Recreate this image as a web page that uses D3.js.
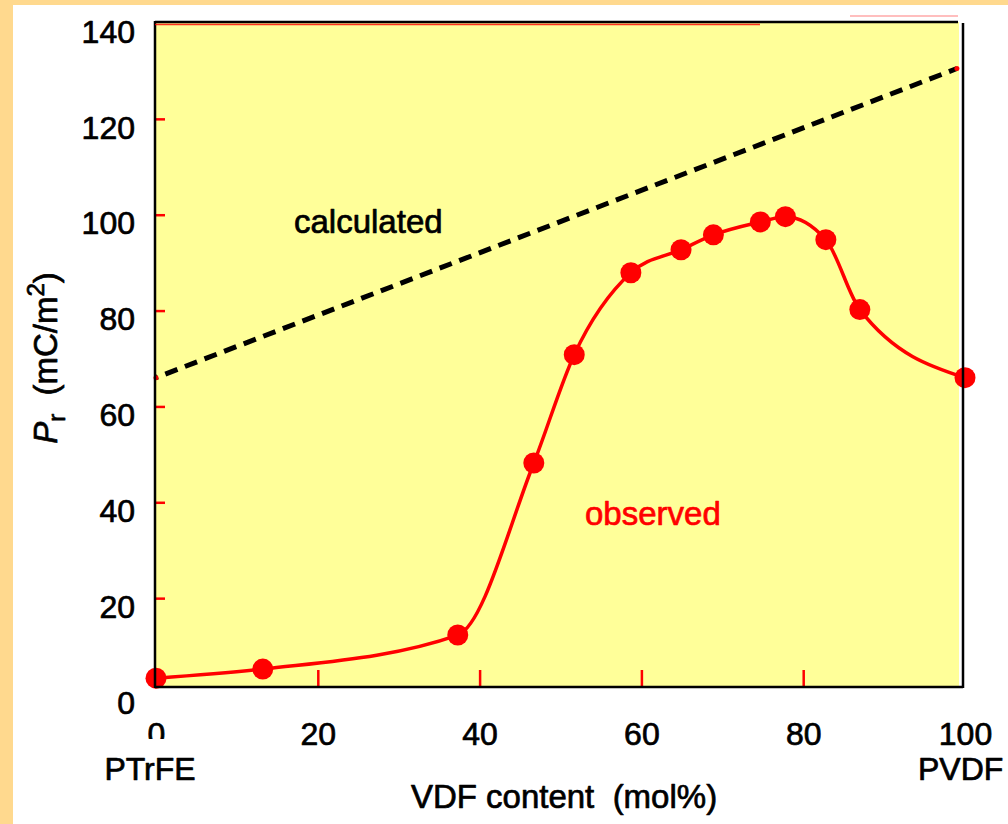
<!DOCTYPE html>
<html>
<head>
<meta charset="utf-8">
<script src="https://cdn.jsdelivr.net/npm/d3@7"></script>
<style>
  html, body { margin: 0; padding: 0; background: #ffffff; }
  svg { display: block; }
  text { font-family: "Liberation Sans", Arial, Helvetica, sans-serif; }
</style>
</head>
<body>
<svg id="chart" width="1008" height="824"></svg>
<script>
// VDF content (mol%) of the copolymer samples and their remanent polarization
const vdfContent = [0, 13.2, 37.3, 46.7, 51.7, 58.7, 64.9, 68.9, 74.7, 77.8, 82.8, 87.0, 100];
const observedPr = [3.3, 5.2, 12.3, 48.2, 70.8, 87.9, 92.7, 95.8, 98.5, 99.6, 94.8, 80.2, 66.0];

// calculated remanent polarization (linear in VDF content)
const calcContent = [0, 99];
const calcPr = [66, 130.5];

// tick labels
const xTickValues = [0, 20, 40, 60, 80, 100];
const xInnerTicks = [20, 40, 60, 80];
const yTickValues = [0, 20, 40, 60, 80, 100, 120, 140];
const yInnerTicks = [20, 40, 60, 80, 100, 120];

const svg = d3.select("#chart");

const x = d3.scaleLinear().domain([0, 100]).range([156, 965]);
const y = d3.scaleLinear().domain([0, 140]).range([694, 23]);

// plot frame geometry
const frameLeft = 155, frameRight = 963, frameTop = 22, frameBottom = 687;

// slight outline so glyphs read as heavy as the printed lettering
const heavy = sel => sel.attr("stroke", function () { return d3.select(this).attr("fill"); })
  .attr("stroke-width", 0.7).attr("stroke-linejoin", "round");

// page border
svg.append("rect").attr("x", 0).attr("y", 0).attr("width", 1008).attr("height", 824).attr("fill", "#ffffff");
svg.append("rect").attr("x", 0).attr("y", 0).attr("width", 13).attr("height", 824).attr("fill", "#FFD98E");
svg.append("rect").attr("x", 0).attr("y", 0).attr("width", 1008).attr("height", 5).attr("fill", "#FFD98E");

// plot background
svg.append("rect")
  .attr("x", frameLeft).attr("y", frameTop)
  .attr("width", 959 - frameLeft).attr("height", frameBottom - frameTop)
  .attr("fill", "#FFFF99");

// red inner ticks
const redTicksX = svg.append("g")
  .attr("transform", `translate(0,${frameBottom})`)
  .call(d3.axisBottom(x).tickValues(xInnerTicks).tickSize(-17).tickFormat(""));
redTicksX.select(".domain").remove();
redTicksX.selectAll("line").attr("stroke", "#FF0000").attr("stroke-width", 2.5);

const redTicksY = svg.append("g")
  .attr("transform", `translate(${frameLeft},0)`)
  .call(d3.axisLeft(y).tickValues(yInnerTicks).tickSize(-10).tickFormat(""));
redTicksY.select(".domain").remove();
redTicksY.selectAll("line").attr("stroke", "#FF0000").attr("stroke-width", 2.5);

// calculated line (dashed)
const calcData = calcContent.map((c, i) => [c, calcPr[i]]);
svg.append("path")
  .datum(calcData)
  .attr("d", d3.line().x(d => x(d[0])).y(d => y(d[1])))
  .attr("fill", "none")
  .attr("stroke", "#000000")
  .attr("stroke-width", 5)
  .attr("stroke-dasharray", "13,8")
  .attr("stroke-dashoffset", -10);
svg.selectAll("circle.calc-end")
  .data(calcData)
  .join("circle")
  .attr("class", "calc-end")
  .attr("cx", d => x(d[0]))
  .attr("cy", d => y(d[1]))
  .attr("r", 2.5)
  .attr("fill", "#FF0000");

// observed curve and points
const obsData = vdfContent.map((c, i) => [c, observedPr[i]]);
svg.append("path")
  .datum(obsData)
  .attr("d", d3.line().x(d => x(d[0])).y(d => y(d[1])).curve(d3.curveMonotoneX))
  .attr("fill", "none")
  .attr("stroke", "#FF0000")
  .attr("stroke-width", 3.5);
svg.selectAll("circle.obs")
  .data(obsData)
  .join("circle")
  .attr("class", "obs")
  .attr("cx", d => x(d[0]))
  .attr("cy", d => y(d[1]))
  .attr("r", 10.5)
  .attr("fill", "#FF0000");

// frame lines
const frame = svg.append("g").attr("stroke", "#000000").attr("stroke-width", 2.5);
frame.append("line").attr("x1", frameLeft).attr("x2", frameLeft).attr("y1", frameTop - 1).attr("y2", frameBottom + 1);
frame.append("line").attr("x1", frameLeft).attr("x2", frameRight).attr("y1", frameBottom).attr("y2", frameBottom);
frame.append("line").attr("x1", frameLeft).attr("x2", 958).attr("y1", frameTop).attr("y2", frameTop);
frame.append("line").attr("x1", frameRight).attr("x2", frameRight).attr("y1", frameTop + 1).attr("y2", frameBottom + 1);
svg.append("line").attr("x1", frameLeft).attr("x2", 760).attr("y1", frameTop + 2.5).attr("y2", frameTop + 2.5)
  .attr("stroke", "#FF0000").attr("stroke-width", 1.5).attr("opacity", 0.8);
svg.append("line").attr("x1", 850).attr("x2", 958).attr("y1", 16).attr("y2", 16)
  .attr("stroke", "#FF0000").attr("stroke-width", 1.2).attr("opacity", 0.5);

// y tick labels
const yLabels = svg.append("g")
  .attr("transform", `translate(${frameLeft},0)`)
  .call(d3.axisLeft(y).tickValues(yTickValues).tickSize(0).tickPadding(20));
yLabels.select(".domain").remove();
yLabels.selectAll("text")
  .attr("font-family", "'Liberation Sans', Arial, sans-serif")
  .attr("font-size", 32)
  .attr("fill", "#000000")
  .attr("dy", "0.6em")
  .call(heavy);

// x tick labels
const defs = svg.append("defs");
defs.append("clipPath").attr("id", "zero-clip")
  .append("rect").attr("x", -25).attr("y", 0).attr("width", 50).attr("height", 52);

const xLabels = svg.append("g")
  .attr("transform", `translate(0,${frameBottom})`)
  .call(d3.axisBottom(x).tickValues(xTickValues).tickSize(0).tickPadding(35));
xLabels.select(".domain").remove();
xLabels.selectAll("text")
  .attr("font-family", "'Liberation Sans', Arial, sans-serif")
  .attr("font-size", 32)
  .attr("fill", "#000000")
  .call(heavy);
xLabels.selectAll(".tick").filter(d => d === 0).select("text").attr("clip-path", "url(#zero-clip)");

// end-member names and axis titles
svg.append("text").attr("x", 150).attr("y", 780).attr("text-anchor", "middle")
  .attr("font-size", 32).attr("fill", "#000").text("PTrFE").call(heavy);
svg.append("text").attr("x", 918).attr("y", 780).attr("text-anchor", "start")
  .attr("font-size", 32).attr("fill", "#000").text("PVDF").call(heavy);
svg.append("text").attr("x", 564).attr("y", 808).attr("text-anchor", "middle")
  .attr("font-size", 33).attr("fill", "#000").attr("xml:space", "preserve").text("VDF content  (mol%)").call(heavy);

const yTitle = svg.append("text")
  .attr("transform", "translate(57,358) rotate(-90)")
  .attr("text-anchor", "middle")
  .attr("font-size", 33)
  .attr("fill", "#000")
  .attr("xml:space", "preserve")
  .call(heavy);
yTitle.append("tspan").attr("font-style", "italic").text("P");
yTitle.append("tspan").attr("font-size", 24).attr("dy", 8).text("r");
yTitle.append("tspan").attr("dy", -8).text("  (mC/m");
yTitle.append("tspan").attr("font-size", 24).attr("dy", -13).text("2");
yTitle.append("tspan").attr("dy", 13).text(")");

// series labels
svg.append("text").attr("x", 294).attr("y", 233).attr("font-size", 33).attr("fill", "#000").text("calculated").call(heavy);
svg.append("text").attr("x", 585).attr("y", 525).attr("font-size", 33).attr("fill", "#FF0000").text("observed").call(heavy);
</script>
</body>
</html>
